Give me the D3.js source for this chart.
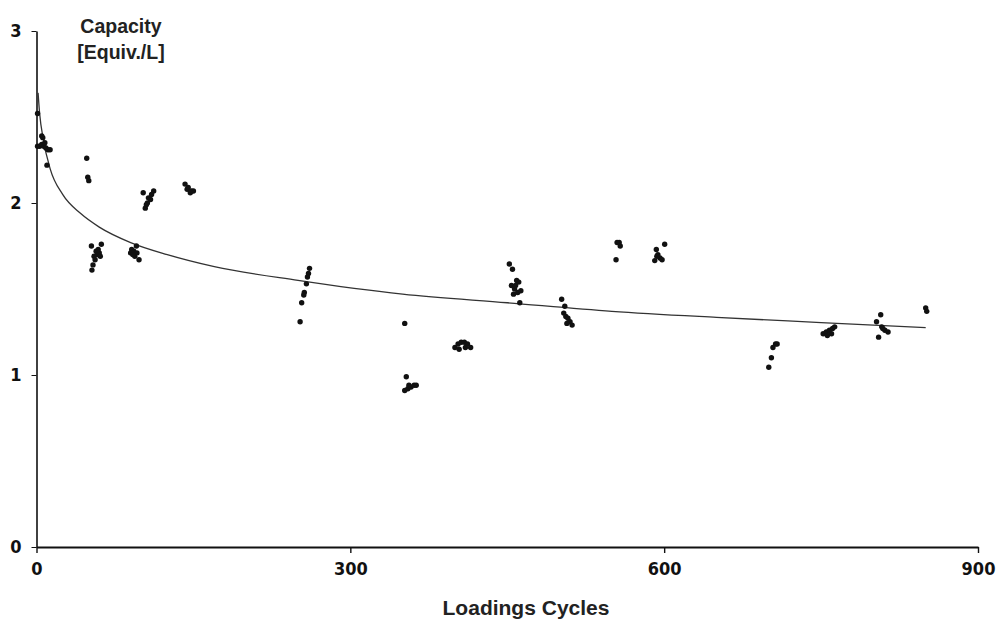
<!DOCTYPE html>
<html>
<head>
<meta charset="utf-8">
<script src="https://cdn.jsdelivr.net/npm/d3@7"></script>
<style>
  body { margin: 0; background: #fff; }
  svg { display: block; }
  .axis path, .axis line { stroke: #111; }
  .axis text { font-family: "DejaVu Sans Condensed", "Liberation Sans Narrow", sans-serif; font-weight: bold; font-size: 18px; fill: #111; }
  .label { font-family: "Liberation Sans", Arial, sans-serif; font-weight: bold; fill: #222; }
</style>
</head>
<body>
<svg id="chart" width="1002" height="623"></svg>
<script>
/*
  Capacity vs loading cycles
  Scatter of measurements plus a fitted trend line
*/

// axis ticks
const xTicks = [0, 300, 600, 900];
const yTicks = [0, 1, 2, 3];

// measured points [cycle, capacity]
const cycles = [
  1, 5, 6, 1, 3, 5, 7, 9, 11, 13, 8, 10,
  48, 49, 50,
  52.5, 62, 57, 58, 60, 55, 56, 54, 53, 59, 61,
  91, 95.5, 90, 94, 98, 93, 96, 92,
  102, 112, 107, 106, 104, 109, 110, 105,
  142, 145, 150, 147, 144, 148,
  261, 260, 259, 258, 256, 255.5, 253.5, 252,
  352, 353.5, 352, 355, 358, 361, 363, 356,
  400, 403, 406, 409, 412, 415, 404, 410,
  452, 455, 454, 457, 459, 461, 456, 460, 463, 462, 458,
  502, 505, 504, 506, 508, 510, 512, 507,
  557, 558, 555, 554,
  600.5, 592.5, 594, 591, 596, 593, 598,
  706.5, 704, 708, 702.5, 700,
  752, 755, 758, 761, 763, 756, 760,
  807, 803, 808, 811, 814, 805, 809,
  850, 851
];
const capacity = [
  2.52, 2.39, 2.38, 2.33, 2.33, 2.34, 2.33, 2.32, 2.31, 2.31, 2.35, 2.22,
  2.26, 2.15, 2.13,
  1.75, 1.76, 1.72, 1.70, 1.71, 1.69, 1.67, 1.64, 1.61, 1.73, 1.69,
  1.73, 1.75, 1.71, 1.69, 1.67, 1.72, 1.71, 1.70,
  2.06, 2.07, 2.03, 2.00, 1.97, 2.02, 2.05, 1.99,
  2.11, 2.09, 2.07, 2.06, 2.08, 2.07,
  1.62, 1.59, 1.57, 1.53, 1.48, 1.465, 1.42, 1.31,
  1.30, 0.99, 0.91, 0.92, 0.93, 0.94, 0.94, 0.94,
  1.16, 1.18, 1.19, 1.19, 1.18, 1.16, 1.15, 1.16,
  1.645, 1.615, 1.52, 1.50, 1.55, 1.54, 1.47, 1.48, 1.49, 1.42, 1.52,
  1.44, 1.40, 1.36, 1.34, 1.33, 1.31, 1.29, 1.30,
  1.77, 1.75, 1.77, 1.67,
  1.76, 1.73, 1.70, 1.665, 1.68, 1.69, 1.67,
  1.18, 1.16, 1.18, 1.10, 1.045,
  1.24, 1.25, 1.26, 1.27, 1.28, 1.23, 1.24,
  1.35, 1.31, 1.28, 1.26, 1.25, 1.22, 1.27,
  1.39, 1.37
];

// trend line
const trendX = [1.5, 3, 6.5, 13, 25, 42, 60, 90, 125, 170, 250, 350, 450, 550, 650, 750, 850];
const trendY = [2.64, 2.52, 2.37, 2.20, 2.05, 1.94, 1.86, 1.77, 1.70, 1.63, 1.55, 1.47, 1.42, 1.37, 1.335, 1.305, 1.275];

const margin = { left: 36.5, right: 24, top: 31, bottom: 76 };
const WIDTH = 1002;
const HEIGHT = 623;

const svg = d3.select('#chart');

/**
 * Scales
 */
const scale = {};
scale.x = d3.scaleLinear()
  .domain([0, 900])
  .range([margin.left, WIDTH - margin.right]);
scale.y = d3.scaleLinear()
  .domain([0, 3])
  .range([HEIGHT - margin.bottom, margin.top]);

/**
 * Axes
 */
const axis = {};
axis.x = d3.axisBottom(scale.x)
  .tickValues(xTicks)
  .tickFormat(d3.format('d'))
  .tickSize(6)
  .tickPadding(9)
  .tickSizeOuter(0);
axis.y = d3.axisLeft(scale.y)
  .tickValues(yTicks)
  .tickFormat(d3.format('d'))
  .tickSize(5)
  .tickPadding(10)
  .tickSizeOuter(0);

svg.append('g')
  .attr('class', 'axis')
  .attr('transform', `translate(${margin.left}, 0)`)
  .call(axis.y)
  .call(g => g.select('.domain').attr('stroke-width', 1.6));

svg.append('g')
  .attr('class', 'axis')
  .attr('transform', `translate(0, ${HEIGHT - margin.bottom})`)
  .call(axis.x)
  .call(g => g.select('.domain').attr('stroke-width', 2.2).attr('stroke', '#333'))
  .call(g => g.selectAll('.tick line').attr('stroke-width', 1.4));

/**
 * Trend line
 */
const trend = trendX.map((x, i) => [x, trendY[i]]);
const line = d3.line()
  .x(d => scale.x(d[0]))
  .y(d => scale.y(d[1]))
  .curve(d3.curveMonotoneX);

svg.append('path')
  .datum(trend)
  .attr('fill', 'none')
  .attr('stroke', '#333')
  .attr('stroke-width', 1.3)
  .attr('d', line);

/**
 * Points
 */
const points = cycles.map((c, i) => ({ x: c, y: capacity[i] }));
svg.append('g')
  .selectAll('circle')
  .data(points)
  .join('circle')
  .attr('cx', d => scale.x(d.x))
  .attr('cy', d => scale.y(d.y))
  .attr('r', 2.7)
  .attr('fill', '#111');

/**
 * Titles
 */
svg.append('text')
  .attr('class', 'label')
  .attr('x', 121)
  .attr('y', 33)
  .attr('text-anchor', 'middle')
  .attr('font-size', 19.5)
  .text('Capacity');
svg.append('text')
  .attr('class', 'label')
  .attr('x', 121)
  .attr('y', 59)
  .attr('text-anchor', 'middle')
  .attr('font-size', 19.5)
  .text('[Equiv./L]');

svg.append('text')
  .attr('class', 'label')
  .attr('x', 526)
  .attr('y', 615)
  .attr('text-anchor', 'middle')
  .attr('font-size', 21)
  .attr('font-family', '"DejaVu Sans Condensed", "Liberation Sans Narrow", sans-serif')
  .text('Loadings Cycles');
</script>
</body>
</html>
